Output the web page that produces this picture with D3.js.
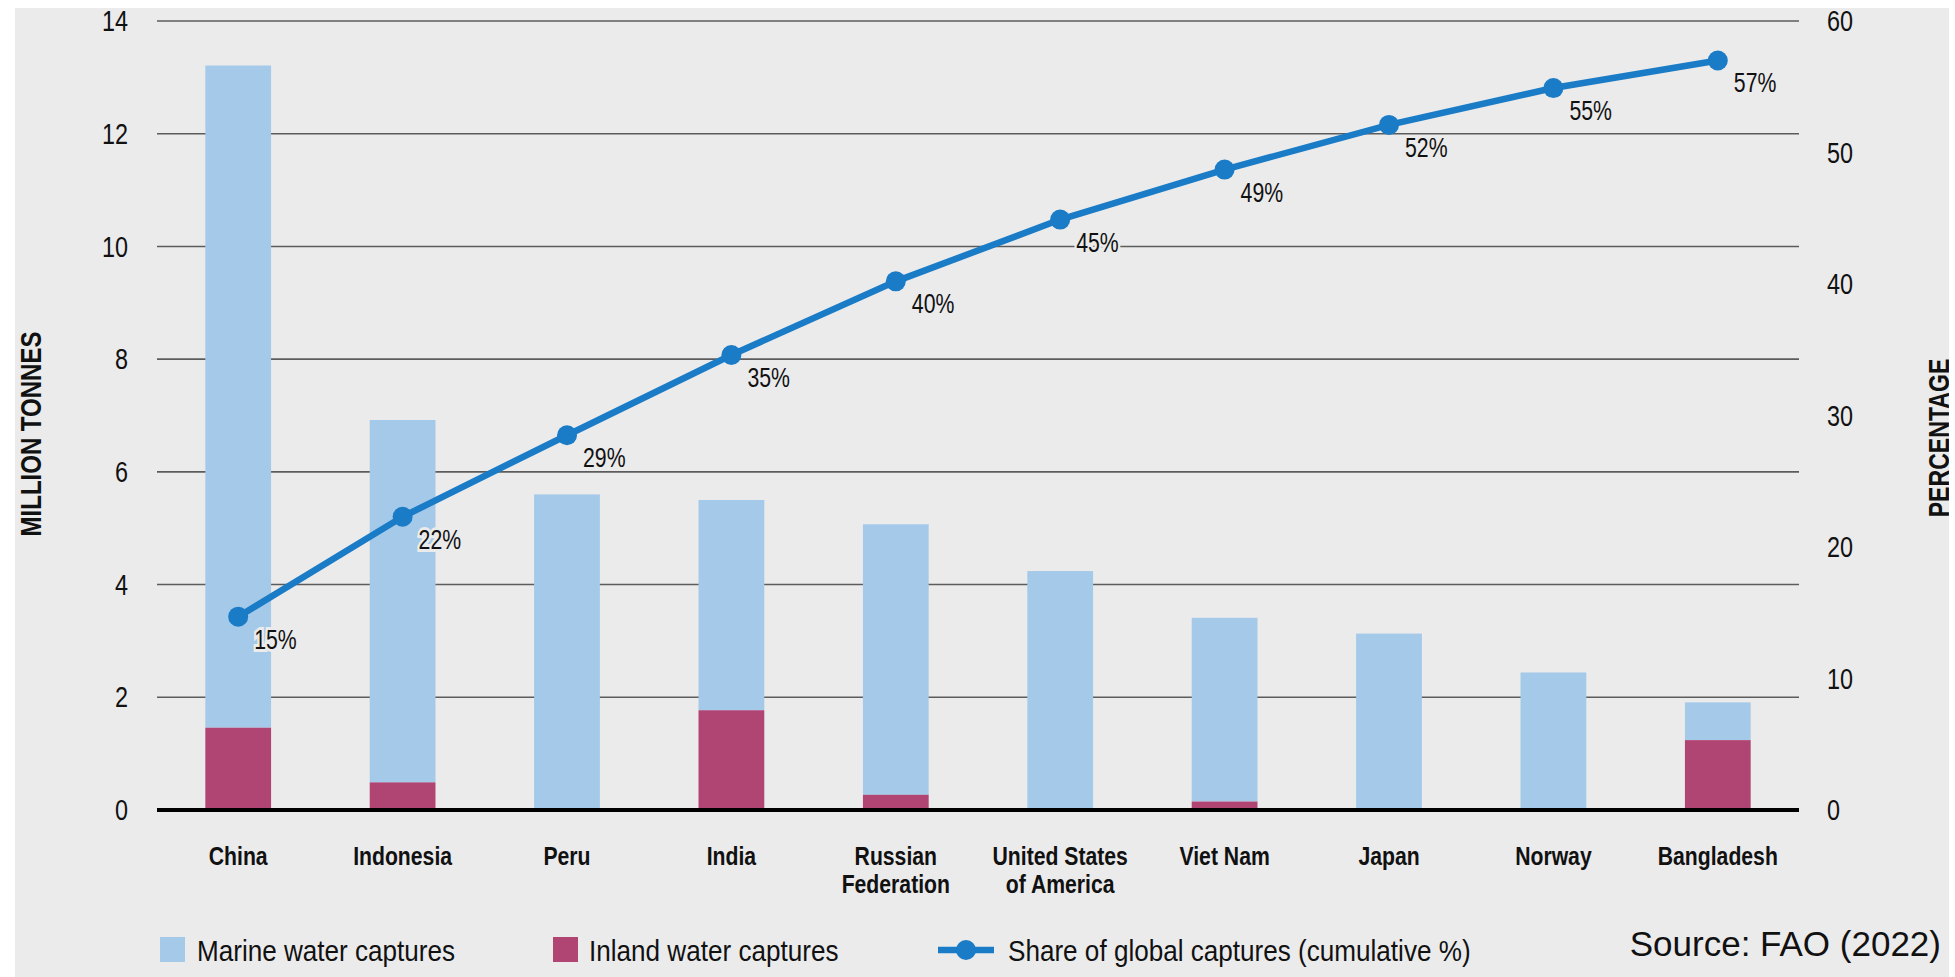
<!DOCTYPE html>
<html lang="en">
<head>
    <meta charset="UTF-8">
    <title>Top capture producers</title>
    <script src="https://d3js.org/d3.v7.min.js"></script>
    <style>
        body { margin: 0; background: #fff; }
        text { font-family: "Liberation Sans", Arial, sans-serif; fill: #111; }
        .cat { font-weight: bold; font-size: 26.5px; }
        .tick text { font-size: 30px; }
        .ttl { font-weight: bold; font-size: 30px; }
    </style>
</head>
<body>
<script>
    // data (million tonnes / %)
    const countries = ["China", "Indonesia", "Peru", "India", "Russian\nFederation",
        "United States\nof America", "Viet Nam", "Japan", "Norway", "Bangladesh"];
    const marine = [11.75, 6.43, 5.60, 3.73, 4.80, 4.24, 3.26, 3.13, 2.44, 0.67];
    const inland = [1.46, 0.49, 0, 1.77, 0.27, 0, 0.15, 0, 0, 1.24];
    const share = [14.7, 22.3, 28.5, 34.6, 40.2, 44.9, 48.7, 52.1, 54.9, 57.0];
    const shareLabels = ["15%", "22%", "29%", "35%", "40%", "45%", "49%", "52%", "55%", "57%"];
    const leftTicks = [0, 2, 4, 6, 8, 10, 12, 14];
    const rightTicks = [0, 10, 20, 30, 40, 50, 60];

    const width = 1955, height = 977;
    const bg = "#ebebec";
    const cMarine = "#a4c9e9", cInland = "#b04473", cLine = "#1a7bc6";

    // the original uses a condensed face, so squeeze Liberation Sans horizontally
    const narrow = (sel, sx) => sel.each(function () {
        const t = d3.select(this);
        const tx = +t.attr("x") || 0, ty = +t.attr("y") || 0;
        t.attr("x", 0).attr("y", 0).attr("transform", `translate(${tx},${ty}) scale(${sx},1)`);
    });

    const svg = d3.select("body").append("svg")
        .attr("width", width).attr("height", height);

    svg.append("clipPath").attr("id", "clip")
        .append("rect").attr("x", 15).attr("y", 8).attr("width", 1934).attr("height", 969);
    const g = svg.append("g").attr("clip-path", "url(#clip)");
    g.append("rect").attr("x", 15).attr("y", 8).attr("width", 1934).attr("height", 969).attr("fill", bg);

    const x = d3.scaleBand().domain(countries).range([156, 1800]).paddingInner(0.6).paddingOuter(0.3);
    const y = d3.scaleLinear().domain([0, 14]).range([810, 21]);
    const yR = d3.scaleLinear().domain([0, 60]).range([810, 21]);

    // gridlines
    g.selectAll("line.grid").data(leftTicks.filter(d => d > 0)).enter().append("line")
        .attr("x1", 157).attr("x2", 1799)
        .attr("y1", d => y(d)).attr("y2", d => y(d))
        .attr("stroke", "#5c5c5c").attr("stroke-width", 1.6);

    // left axis
    const ax = g.append("g").attr("transform", "translate(157,0)")
        .call(d3.axisLeft(y).tickValues(leftTicks).tickSize(0).tickPadding(29));
    ax.select(".domain").remove();

    // right axis
    const axR = g.append("g").attr("transform", "translate(1799,0)")
        .call(d3.axisRight(yR).tickValues(rightTicks).tickSize(0).tickPadding(28));
    axR.select(".domain").remove();
    g.selectAll(".tick text").attr("font-family", null).attr("font-size", null);
    narrow(g.selectAll(".tick text"), 0.78);

    // stacked bars
    const stacked = countries.map((c, i) => ({ c, inland: inland[i], total: inland[i] + marine[i] }));
    g.selectAll("rect.marine").data(stacked).enter().append("rect")
        .attr("x", d => x(d.c)).attr("width", x.bandwidth())
        .attr("y", d => y(d.total)).attr("height", d => y(d.inland) - y(d.total))
        .attr("fill", cMarine);
    g.selectAll("rect.inland").data(stacked.filter(d => d.inland > 0)).enter().append("rect")
        .attr("x", d => x(d.c)).attr("width", x.bandwidth())
        .attr("y", d => y(d.inland)).attr("height", d => y(0) - y(d.inland))
        .attr("fill", cInland);

    // baseline
    g.append("line").attr("x1", 157).attr("x2", 1799).attr("y1", y(0)).attr("y2", y(0))
        .attr("stroke", "#000").attr("stroke-width", 4);

    // category labels
    const cat = g.selectAll("text.cat").data(countries).enter().append("text")
        .attr("class", "cat").attr("text-anchor", "middle")
        .attr("transform", d => `translate(${x(d) + x.bandwidth() / 2},865) scale(0.8,1)`);
    cat.selectAll("tspan").data(d => d.split("\n")).enter().append("tspan")
        .attr("x", 0).attr("dy", (d, i) => i ? 28 : 0)
        .text(d => d);

    // cumulative share line
    const pts = countries.map((c, i) => [x(c) + x.bandwidth() / 2, yR(share[i])]);
    g.append("path").attr("d", d3.line()(pts))
        .attr("fill", "none").attr("stroke", cLine).attr("stroke-width", 6.5);
    g.selectAll("circle.pt").data(pts).enter().append("circle")
        .attr("cx", d => d[0]).attr("cy", d => d[1]).attr("r", 10).attr("fill", cLine);
    const lbl = g.selectAll("text.lbl").data(pts).enter().append("text")
        .attr("x", d => d[0] + 16).attr("y", d => d[1] + 32)
        .attr("font-size", 28)
        .attr("stroke", bg).attr("stroke-width", 6).attr("paint-order", "stroke")
        .text((d, i) => shareLabels[i]);
    narrow(lbl, 0.76);

    // axis titles
    g.append("text").attr("class", "ttl").attr("text-anchor", "middle")
        .attr("transform", "translate(41,434) rotate(-90) scale(0.8,1)").text("MILLION TONNES");
    g.append("text").attr("class", "ttl").attr("text-anchor", "middle")
        .attr("transform", "translate(1949,438) rotate(-90) scale(0.77,1)").text("PERCENTAGE");

    // legend
    const lg = g.append("g");
    lg.append("rect").attr("x", 160).attr("y", 937).attr("width", 25).attr("height", 25).attr("fill", cMarine);
    lg.append("rect").attr("x", 553).attr("y", 937).attr("width", 25).attr("height", 25).attr("fill", cInland);
    lg.append("line").attr("x1", 938).attr("x2", 994).attr("y1", 950).attr("y2", 950)
        .attr("stroke", cLine).attr("stroke-width", 6.5);
    lg.append("circle").attr("cx", 966).attr("cy", 950).attr("r", 10).attr("fill", cLine);
    const lt = lg.selectAll("text").data([[197, "Marine water captures"], [589, "Inland water captures"],
        [1008, "Share of global captures (cumulative %)"]]).enter().append("text")
        .attr("x", d => d[0]).attr("y", 961).attr("font-size", 29).text(d => d[1]);
    narrow(lt, 0.9);

    g.append("text").attr("x", 1941).attr("y", 956).attr("text-anchor", "end")
        .attr("font-size", 35).text("Source: FAO (2022)");
</script>
</body>
</html>
